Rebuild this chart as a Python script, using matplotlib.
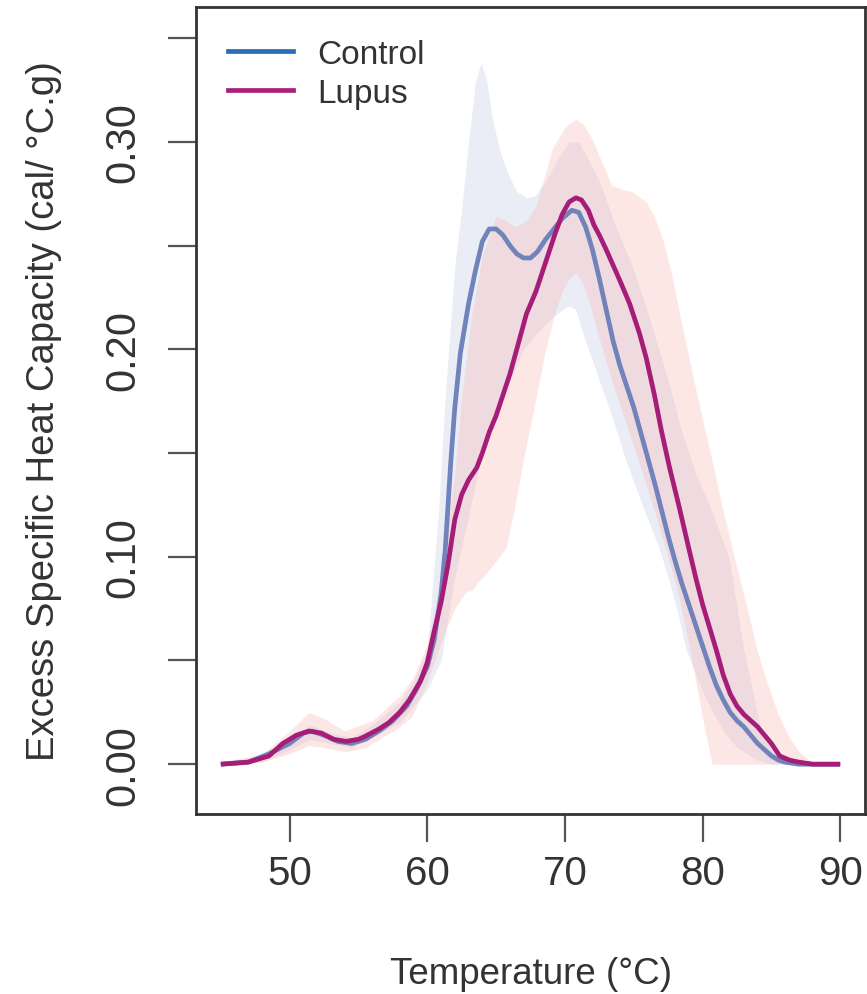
import numpy as np
import matplotlib
matplotlib.use("Agg")
import matplotlib.pyplot as plt
from matplotlib.lines import Line2D

plt.rcParams['font.family'] = ['Liberation Sans', 'DejaVu Sans']

# Mean curves (temperature in degC, excess heat capacity in cal/degC.g)
control_t = [45, 47, 48.5, 50, 51, 51.6, 52.5, 53.5, 54.5, 55.5, 56.5, 57.5, 58.5, 59.2,
             60, 60.5, 61, 61.3, 61.7, 62, 62.4, 63, 63.5, 64, 64.5, 65, 65.5, 66, 66.5,
             67, 67.5, 68, 68.6, 69.2, 69.8, 70.5, 71, 71.5, 72, 72.5, 73, 73.5, 74, 74.5,
             75, 75.5, 76, 76.5, 77, 77.5, 78, 78.5, 79, 79.5, 80, 80.5, 81, 81.5, 82,
             82.5, 83, 83.5, 84, 84.5, 85, 85.5, 86, 87, 90]
control_cp = [0, 0.001, 0.005, 0.010, 0.015, 0.016, 0.014, 0.011, 0.010, 0.012, 0.016,
              0.021, 0.028, 0.036, 0.047, 0.060, 0.082, 0.103, 0.145, 0.172, 0.198, 0.222,
              0.238, 0.252, 0.258, 0.258, 0.255, 0.250, 0.246, 0.244, 0.244, 0.247, 0.253,
              0.258, 0.263, 0.267, 0.266, 0.259, 0.248, 0.234, 0.219, 0.204, 0.192, 0.182,
              0.172, 0.160, 0.148, 0.136, 0.123, 0.110, 0.098, 0.087, 0.077, 0.067, 0.057,
              0.047, 0.038, 0.031, 0.025, 0.021, 0.018, 0.014, 0.010, 0.007, 0.004, 0.002,
              0.001, 0, 0]

lupus_t = [45, 47, 48.5, 49.5, 50.5, 51.4, 52.3, 53.2, 54.1, 55, 55.5, 56.5, 57.2, 58,
           58.7, 59.5, 60, 60.5, 61, 61.5, 62, 62.5, 63, 63.6, 64, 64.5, 65, 65.4, 66,
           66.5, 67.2, 67.9, 68.3, 68.8, 69.3, 69.8, 70.3, 70.8, 71.2, 71.7, 72.1, 72.5,
           73, 73.4, 74, 74.7, 75.4, 75.9, 76.5, 77, 77.6, 78.3, 79, 79.5, 80, 80.5, 81,
           81.5, 82, 82.5, 83, 83.5, 84, 84.5, 85, 85.6, 86.3, 87, 88, 90]
lupus_cp = [0, 0.001, 0.004, 0.010, 0.014, 0.016, 0.015, 0.012, 0.011, 0.012, 0.0135,
            0.017, 0.020, 0.025, 0.031, 0.040, 0.049, 0.064, 0.078, 0.096, 0.118, 0.130,
            0.137, 0.143, 0.150, 0.160, 0.168, 0.176, 0.188, 0.200, 0.217, 0.228, 0.236,
            0.246, 0.256, 0.265, 0.271, 0.273, 0.272, 0.267, 0.260, 0.255, 0.248, 0.242,
            0.233, 0.222, 0.208, 0.196, 0.178, 0.161, 0.143, 0.124, 0.104, 0.090, 0.077,
            0.066, 0.055, 0.043, 0.034, 0.028, 0.024, 0.021, 0.018, 0.014, 0.010, 0.004,
            0.002, 0.001, 0, 0]

# Spread bands (upper / lower edges)
control_up_t = [45, 48, 50, 51.5, 53, 54.5, 56, 58, 59, 60, 60.8, 61.3, 62, 62.5, 63,
                63.5, 63.9, 64.3, 64.7, 65.3, 65.9, 66.5, 67.2, 67.8, 68.6, 69.5, 70.3,
                71, 71.8, 72.5, 73.7, 74.9, 76.1, 77.5, 78.5, 79.5, 80.5, 81.9, 83, 84.3,
                85.5, 87, 90]
control_up = [0.001, 0.004, 0.012, 0.019, 0.015, 0.013, 0.019, 0.030, 0.040, 0.055, 0.120,
              0.177, 0.240, 0.268, 0.300, 0.329, 0.338, 0.330, 0.312, 0.295, 0.284, 0.276,
              0.273, 0.274, 0.281, 0.292, 0.300, 0.300, 0.290, 0.281, 0.259, 0.240, 0.216,
              0.185, 0.160, 0.140, 0.125, 0.100, 0.055, 0.015, 0.004, 0, 0]
control_lo_t = [45, 48, 50, 51.5, 53, 54.5, 56, 58, 59, 60, 61, 62, 63, 64, 65, 66, 67,
                68, 69, 69.8, 70.3, 70.8, 71.2, 71.7, 72.5, 73.4, 74.5, 75.9, 76.8, 77.6,
                78.3, 78.8, 79.7, 80.5, 81.5, 82.5, 84, 85, 90]
control_lo = [0, 0.001, 0.007, 0.012, 0.010, 0.008, 0.013, 0.020, 0.028, 0.036, 0.050,
              0.090, 0.120, 0.150, 0.170, 0.185, 0.200, 0.208, 0.215, 0.219, 0.221, 0.219,
              0.210, 0.200, 0.185, 0.168, 0.145, 0.120, 0.105, 0.088, 0.070, 0.055, 0.040,
              0.028, 0.016, 0.008, 0.002, 0, 0]

lupus_up_t = [45, 48, 50, 51.4, 52.5, 54, 56, 58, 59, 60, 61, 62, 62.5, 63.2, 64, 65,
              65.7, 66.4, 67.2, 67.9, 68.5, 69.1, 70, 70.8, 71.4, 72, 72.7, 73.4, 74.2,
              74.9, 75.9, 76.5, 77.1, 77.7, 78.3, 79.2, 80, 80.7, 81.5, 82.3, 83.2, 84,
              84.6, 85.5, 86.3, 87, 88, 90]
lupus_up = [0.001, 0.005, 0.016, 0.025, 0.022, 0.016, 0.021, 0.033, 0.042, 0.058, 0.090,
            0.140, 0.177, 0.215, 0.245, 0.264, 0.262, 0.259, 0.262, 0.269, 0.283, 0.297,
            0.307, 0.311, 0.308, 0.301, 0.290, 0.279, 0.277, 0.276, 0.271, 0.264, 0.253,
            0.238, 0.218, 0.190, 0.166, 0.146, 0.122, 0.100, 0.076, 0.054, 0.041, 0.024,
            0.013, 0.006, 0.001, 0]
lupus_lo_t = [45, 48, 50, 51.4, 52.5, 54.1, 55.5, 56.5, 58, 58.9, 60, 61.3, 62, 62.8,
              63.3, 63.7, 64.3, 65, 65.7, 66.3, 66.9, 67.7, 68.6, 69.3, 69.8, 70.3, 70.8,
              71.3, 71.8, 72.5, 73.5, 74.5, 75.5, 76.5, 77.5, 78.3, 79, 79.7, 80.3, 80.7,
              90]
lupus_lo = [0, 0.001, 0.005, 0.009, 0.008, 0.006, 0.008, 0.012, 0.018, 0.023, 0.040,
            0.064, 0.075, 0.083, 0.084, 0.088, 0.092, 0.098, 0.104, 0.122, 0.144, 0.170,
            0.200, 0.218, 0.228, 0.234, 0.237, 0.232, 0.222, 0.205, 0.183, 0.163, 0.143,
            0.122, 0.100, 0.080, 0.058, 0.033, 0.012, 0, 0]

series_names = ['Control', 'Lupus']
x_ticks = [50, 60, 70, 80, 90]
y_ticks = [0.00, 0.05, 0.10, 0.15, 0.20, 0.25, 0.30, 0.35]
y_tick_labels = ['0.00', '', '0.10', '', '0.20', '', '0.30', '']


def band(t_up, up, t_lo, lo, grid):
    """Upper and lower edge on a common temperature grid for fill_between."""
    return np.interp(grid, t_up, up), np.interp(grid, t_lo, lo)


fig = plt.figure(figsize=(8.67, 9.95), dpi=100)
ax = fig.add_axes([0.2261, 0.1809, 0.7716, 0.8111])

grid = np.union1d(np.union1d(control_up_t, control_lo_t), np.union1d(lupus_up_t, lupus_lo_t))
c_up, c_lo = band(control_up_t, control_up, control_lo_t, control_lo, grid)
l_up, l_lo = band(lupus_up_t, lupus_up, lupus_lo_t, lupus_lo, grid)

ax.fill_between(grid, c_lo, c_up, color='#c4cbe6', alpha=0.35, lw=0)
ax.fill_between(grid, l_lo, l_up, color='#f9b2aa', alpha=0.30, lw=0)
ax.plot(control_t, control_cp, color='#7083bb', lw=3.4, solid_capstyle='butt')
ax.plot(lupus_t, lupus_cp, color='#a61d78', lw=3.4, solid_capstyle='butt')

ax.set_xlim(43.2, 91.8)
ax.set_ylim(-0.024, 0.365)

ax.set_xticks(x_ticks)
ax.set_yticks(y_ticks)
ax.set_yticklabels(y_tick_labels)
ax.tick_params(axis='both', direction='out', length=20, width=1.6, color='#555555',
               labelcolor='#333333', labelsize=29)
ax.tick_params(axis='x', pad=9)
ax.tick_params(axis='y', pad=18, labelsize=30, labelrotation=90)
for lbl in ax.get_yticklabels():
    lbl.set_va('center')

for side in ax.spines.values():
    side.set_linewidth(2.0)
    side.set_color('#333333')

ax.set_xlabel('Temperature (°C)', fontsize=26.5, color='#333333', labelpad=46)
ax.set_ylabel('Excess Specific Heat Capacity (cal/ °C.g)', fontsize=27.5, color='#333333',
              labelpad=30)

handles = [Line2D([], [], color='#2a6db5', lw=3.4),
           Line2D([], [], color='#a8207a', lw=3.4)]
ax.legend(handles, series_names, loc='upper left', frameon=False, fontsize=24,
          handlelength=1.95, handletextpad=0.75, labelspacing=0.25,
          borderaxespad=0.55, labelcolor='#333333')

fig.savefig('out.png', dpi=100)
